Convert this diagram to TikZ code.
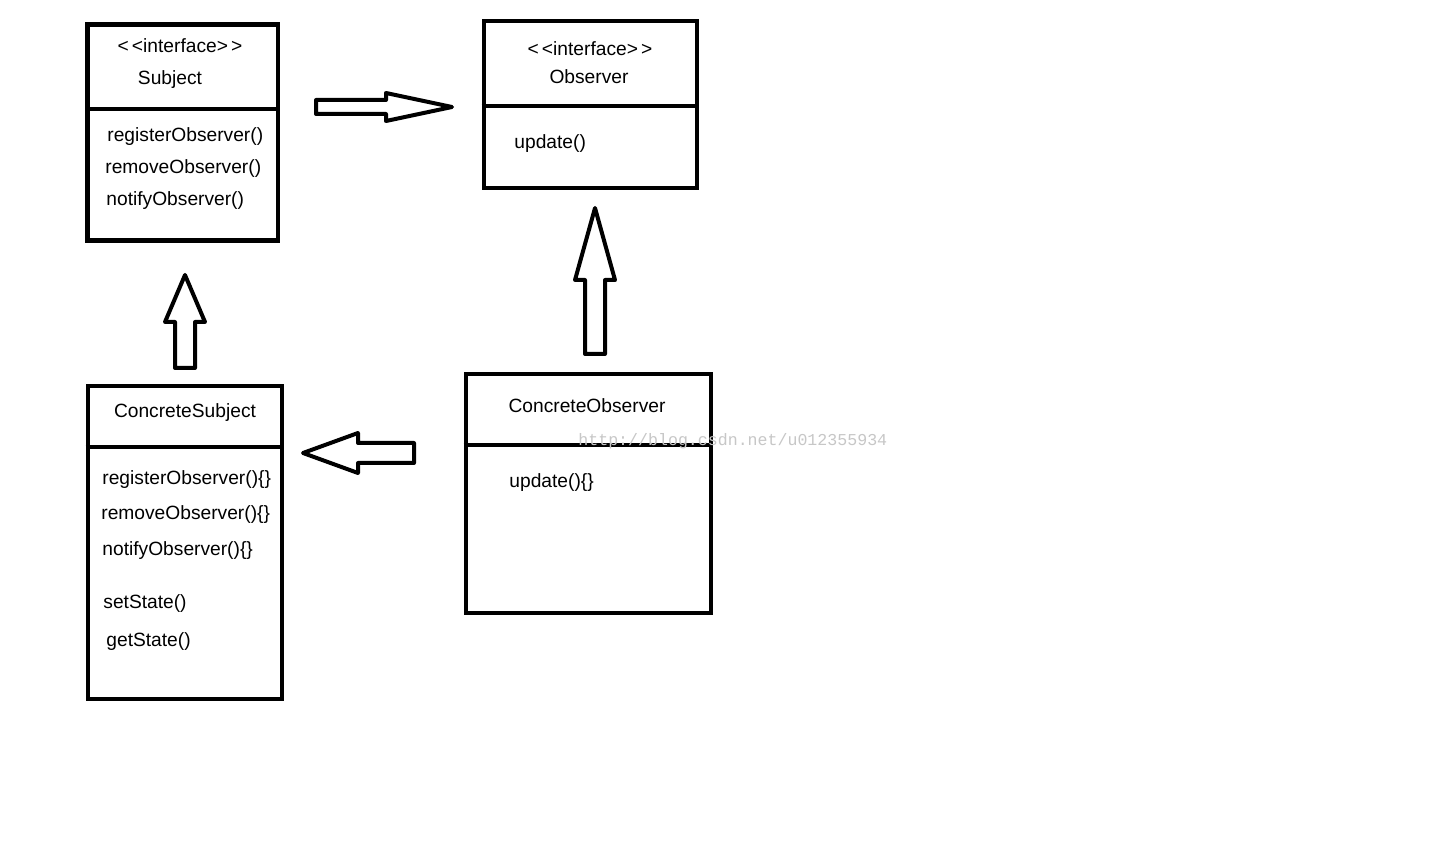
\documentclass[tikz,border=0pt]{standalone}
\usepackage{fontspec}
\setmainfont{Liberation Sans}
\newfontfamily\wmfont{Liberation Mono}
\usetikzlibrary{fit}
\begin{document}
\begin{tikzpicture}[x=0.5pt,y=-0.5pt,
  umlbox/.style={draw=black,line width=2.3pt,inner sep=0pt},
  divider/.style={draw=black,line width=2.3pt},
  blockarrow/.style={draw=black,line width=2pt,line join=round,fill=white},
  txt/.style={font=\fontsize{9.6pt}{11pt}\selectfont,inner sep=0pt,yshift=-1.4pt},
  ltxt/.style={txt,anchor=west},
  wm/.style={font=\wmfont\fontsize{8.3pt}{10pt}\selectfont,text=black!22,inner sep=0pt,anchor=west}]
\useasboundingbox[fill=white] (0,0) rectangle (1444,860);

% boxes
\node[umlbox,fit={(87.5,24.5)(278,240.5)}] (subject) {};
\node[umlbox,fit={(484,21)(697,188)}] (observer) {};
\node[umlbox,fit={(88,386)(282,699)}] (csubject) {};
\node[umlbox,fit={(466,374)(711,613)}] (cobserver) {};

% dividers
\draw[divider] (subject.west |- 0,109) -- (subject.east |- 0,109);
\draw[divider] (observer.west |- 0,106) -- (observer.east |- 0,106);
\draw[divider] (csubject.west |- 0,447) -- (csubject.east |- 0,447);
\draw[divider] (cobserver.west |- 0,445) -- (cobserver.east |- 0,445);

% Subject texts
\node[txt] (s1) at (180,43) {<\,<interface>\,>};
\node[txt] (s2) at (170,77) {Subject};
\node[ltxt] (s3) at (107,134) {registerObserver()};
\node[ltxt] (s4) at (105,166) {removeObserver()};
\node[ltxt] (s5) at (106,198) {notifyObserver()};

% Observer texts
\node[txt] (o1) at (590,46) {<\,<interface>\,>};
\node[txt] (o2) at (589,74) {Observer};
\node[ltxt] (o3) at (514,141) {update()};

% ConcreteSubject texts
\node[txt] (c1) at (185,410) {ConcreteSubject};
\node[ltxt] (c2) at (102,477) {registerObserver()\{\}};
\node[ltxt] (c3) at (101,512) {removeObserver()\{\}};
\node[ltxt] (c4) at (102,548) {notifyObserver()\{\}};
\node[ltxt] (c5) at (103,601) {setState()};
\node[ltxt] (c6) at (106,639) {getState()};

% ConcreteObserver texts
\node[txt] (d1) at (587,403) {ConcreteObserver};
\node[ltxt] (d2) at (509,480) {update()\{\}};

% watermark
\node[wm] (wmark) at (578,441) {http://blog.csdn.net/u012355934};

% block arrows
\draw[blockarrow] (316,100) -- (386,100) -- (386,93) -- (452,107) -- (386,121) -- (386,114) -- (316,114) -- cycle;
\draw[blockarrow] (595,208) -- (615,280) -- (605,280) -- (605,354) -- (585,354) -- (585,280) -- (575,280) -- cycle;
\draw[blockarrow] (185,275) -- (205,322) -- (195,322) -- (195,368) -- (175,368) -- (175,322) -- (165,322) -- cycle;
\draw[blockarrow] (303,453) -- (358,433) -- (358,443) -- (414,443) -- (414,463) -- (358,463) -- (358,473) -- cycle;
\end{tikzpicture}
\end{document}
